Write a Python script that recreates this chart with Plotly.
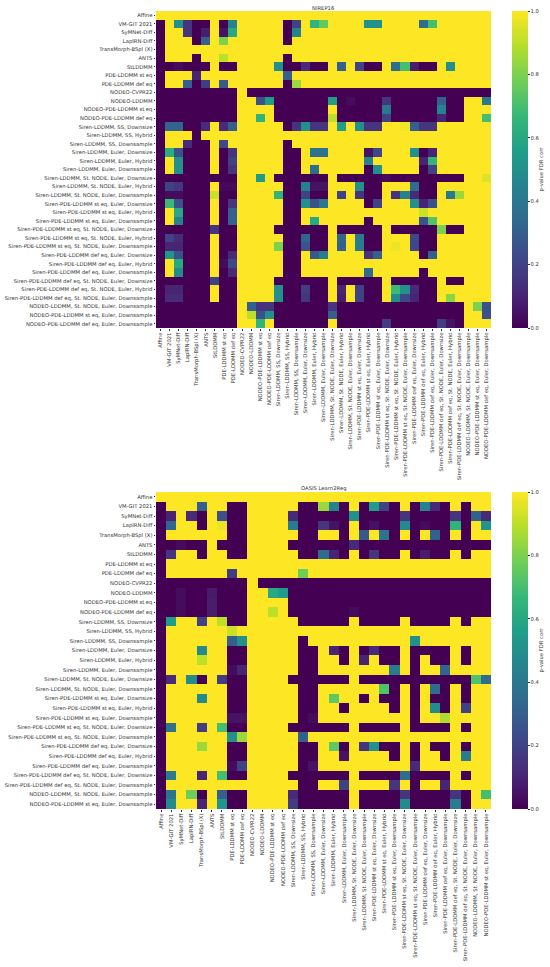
import plotly.graph_objs as go

labels_nirep = [
    'Affine', 'VM-GIT 2021', 'SyMNet-Diff', 'LapIRN-Diff', 'TransMorph-BSpl (X)', 'ANTS', 'StLDDMM',
    'PDE-LDDMM st eq', 'PDE-LDDMM def eq', 'NODEO-CVPR22', 'NODEO-LDDMM',
    'NODEO-PDE-LDDMM st eq', 'NODEO-PDE-LDDMM def eq',
    'Siren-LDDMM, SS, Downsize', 'Siren-LDDMM, SS, Hybrid', 'Siren-LDDMM, SS, Downsample',
    'Siren-LDDMM, Euler, Downsize', 'Siren-LDDMM, Euler, Hybrid', 'Siren-LDDMM, Euler, Downsample',
    'Siren-LDDMM, St. NODE, Euler, Downsize', 'Siren-LDDMM, St. NODE, Euler, Hybrid',
    'Siren-LDDMM, St. NODE, Euler, Downsample',
    'Siren-PDE-LDDMM st eq, Euler, Downsize', 'Siren-PDE-LDDMM st eq, Euler, Hybrid',
    'Siren-PDE-LDDMM st eq, Euler, Downsample',
    'Siren-PDE-LDDMM st eq, St. NODE, Euler, Downsize', 'Siren-PDE-LDDMM st eq, St. NODE, Euler, Hybrid',
    'Siren-PDE-LDDMM st eq, St. NODE, Euler, Downsample',
    'Siren-PDE-LDDMM def eq, Euler, Downsize', 'Siren-PDE-LDDMM def eq, Euler, Hybrid',
    'Siren-PDE-LDDMM def eq, Euler, Downsample',
    'Siren-PDE-LDDMM def eq, St. NODE, Euler, Downsize', 'Siren-PDE-LDDMM def eq, St. NODE, Euler, Hybrid',
    'Siren-PDE-LDDMM def eq, St. NODE, Euler, Downsample',
    'NODEO-LDDMM, St. NODE, Euler, Downsample', 'NODEO-PDE-LDDMM st eq, Euler, Downsample',
    'NODEO-PDE-LDDMM def eq, Euler, Downsample',
]

labels_oasis = [
    'Affine', 'VM-GIT 2021', 'SyMNet-Diff', 'LapIRN-Diff', 'TransMorph-BSpl (X)', 'ANTS', 'StLDDMM',
    'PDE-LDDMM st eq', 'PDE-LDDMM def eq', 'NODEO-CVPR22', 'NODEO-LDDMM',
    'NODEO-PDE-LDDMM st eq', 'NODEO-PDE-LDDMM def eq',
    'Siren-LDDMM, SS, Downsize', 'Siren-LDDMM, SS, Hybrid', 'Siren-LDDMM, SS, Downsample',
    'Siren-LDDMM, Euler, Downsize', 'Siren-LDDMM, Euler, Hybrid', 'Siren-LDDMM, Euler, Downsample',
    'Siren-LDDMM, St. NODE, Euler, Downsize', 'Siren-LDDMM, St. NODE, Euler, Downsample',
    'Siren-PDE-LDDMM st eq, Euler, Downsize', 'Siren-PDE-LDDMM st eq, Euler, Hybrid',
    'Siren-PDE-LDDMM st eq, Euler, Downsample',
    'Siren-PDE-LDDMM st eq, St. NODE, Euler, Downsize', 'Siren-PDE-LDDMM st eq, St. NODE, Euler, Downsample',
    'Siren-PDE-LDDMM def eq, Euler, Downsize', 'Siren-PDE-LDDMM def eq, Euler, Hybrid',
    'Siren-PDE-LDDMM def eq, Euler, Downsample',
    'Siren-PDE-LDDMM def eq, St. NODE, Euler, Downsize', 'Siren-PDE-LDDMM def eq, St. NODE, Euler, Downsample',
    'NODEO-LDDMM, St. NODE, Euler, Downsample', 'NODEO-PDE-LDDMM st eq, Euler, Downsample',
]

pvals_nirep = [
    [1,1,1,1,1,1,1,1,1,1, 1,1,1,1,1,1,1,1,1,1, 1,1,1,1,1,1,1,1,1,1, 1,1,1,1,1,1,1],
    [0,1,.5,.15,0,0,1,0,.45,1, 1,1,1,1,0,.2,1,.65,.75,1, 1,1,1,.5,.5,1,1,1,1,.35, .7,1,1,1,1,1,1],
    [0,1,1,.15,0,.08,1,.05,.6,1, 1,1,1,1,0,.45,1,1,1,1, 1,1,1,1,1,1,1,1,1,1, 1,1,1,1,1,1,1],
    [0,1,1,1,0,.3,1,.8,1,1, 1,1,1,1,0,1,1,1,1,1, 1,1,1,1,1,1,1,1,1,1, 1,1,1,1,1,1,1],
    [0,1,1,1,1,1,1,1,1,1, 1,1,1,1,1,1,1,1,1,1, 1,1,1,1,1,1,1,1,1,1, 1,1,1,1,1,1,1],
    [0,1,1,1,0,1,1,.9,1,1, 1,1,1,1,0,1,1,1,1,1, 1,1,1,1,1,1,1,1,1,1, 1,1,1,1,1,1,1],
    [0,0,.03,0,0,0,1,0,0,1, 1,1,1,.5,0,0,.12,0,0,1, .3,1,.2,0,0,1,.35,.7,.08,0, 0,1,.5,1,1,1,1],
    [0,1,1,1,.1,1,1,1,1,1, 1,1,1,1,.3,1,1,1,1,1, 1,1,1,1,1,1,1,1,1,1, 1,1,1,1,1,1,1],
    [0,1,1,.3,0,.18,1,.28,1,1, 1,1,1,1,0,.85,1,1,1,1, 1,1,1,1,1,1,1,1,1,1, 1,1,1,1,1,1,1],
    [0,0,0,0,0,0,0,0,0,1, 0,0,0,0,0,0,0,0,0,0, 0,0,0,0,0,0,0,0,0,0, 0,0,0,0,0,0,0],
    [0,0,0,0,0,0,0,0,0,1, 1,.25,.55,0,0,0,0,0,0,.55, 0,.03,0,0,0,.15,0,0,0,0, 0,.3,0,0,1,1,.4],
    [0,0,0,0,0,0,0,0,0,1, 1,1,1,0,0,0,0,0,0,1, 0,0,0,0,0,.4,0,0,0,0, 0,.45,0,0,1,1,1],
    [0,0,0,0,0,0,0,0,0,1, 1,.65,1,0,0,0,0,0,0,.9, 0,0,0,0,0,.2,0,0,0,0, 0,.1,0,0,1,1,.7],
    [0,.32,.32,0,0,.12,1,.12,.3,1, 1,1,1,1,0,.15,.5,.15,.15,1, .55,1,.5,.15,.15,1,1,.98,.3,.15, .15,1,1,1,1,1,1],
    [0,1,1,1,0,1,1,1,1,1, 1,1,1,1,1,1,1,1,1,1, 1,1,1,1,1,1,1,1,1,1, 1,1,1,1,1,1,1],
    [0,1,1,.12,0,0,1,.22,1,1, 1,1,1,1,0,1,1,1,1,1, 1,1,1,1,1,1,1,1,1,1, 1,1,1,1,1,1,1],
    [0,.62,.25,0,0,0,1,0,.15,1, 1,1,1,1,0,0,1,.38,.38,1, 1,1,1,.05,.22,1,1,1,.5,0, .1,1,1,1,1,1,1],
    [0,1,.5,0,0,0,1,0,.2,1, 1,1,1,1,0,0,1,1,1,1, 1,1,1,.45,1,1,1,1,1,.1, .65,1,1,1,1,1,1],
    [0,1,.5,0,0,0,1,0,.15,1, 1,1,1,1,0,0,1,.35,1,1, 1,1,1,0,.5,1,1,1,1,0, .2,1,1,1,1,1,1],
    [0,0,0,0,0,0,0,0,0,1, 1,.55,1,0,0,0,0,0,0,1, 0,0,0,0,0,.03,0,0,0,0, 0,0,0,0,1,1,.95],
    [0,.2,.15,0,0,0,1,.02,.02,1, 1,1,1,1,0,0,.45,.05,.05,1, 1,1,.5,0,0,1,1,1,.35,0, 0,1,1,1,1,1,1],
    [0,.03,.03,0,0,0,.92,0,0,1, 1,1,1,.65,0,0,.2,0,0,1, .2,1,.15,0,0,1,.15,.45,.12,0, 0,1,.4,.85,1,1,1],
    [0,.68,.25,0,0,0,1,0,.15,1, 1,1,1,1,0,0,.5,.25,.4,1, 1,1,1,0,.2,1,1,1,.5,.1, .25,1,1,1,1,1,1],
    [0,1,.6,0,0,0,1,0,.3,1, 1,1,1,1,0,0,1,1,1,1, 1,1,1,1,1,1,1,1,1,.92, 1,1,1,1,1,1,1],
    [0,1,.45,0,0,0,1,0,.32,1, 1,1,1,1,0,0,1,.6,1,1, 1,1,1,0,1,1,1,1,1,.25, .72,1,1,1,1,1,1],
    [0,0,0,0,0,0,.15,0,0,1, 1,1,1,0,0,0,0,0,0,1, 0,0,0,0,0,1,0,0,0,0, 0,.8,0,0,1,1,1],
    [0,.2,.12,0,0,0,1,0,0,1, 1,1,1,1,0,0,.32,0,0,1, .32,1,.42,0,0,1,1,1,.22,0, 0,1,1,1,1,1,1],
    [0,.1,.1,0,0,0,1,0,0,1, 1,1,1,.8,0,0,.25,0,0,1, .3,1,.42,0,0,1,.97,1,.22,0, 0,1,1,1,1,1,1],
    [0,.52,.25,0,0,0,1,0,.12,1, 1,1,1,1,0,0,1,.28,.42,1, 1,1,1,.15,.3,1,1,1,1,0, .3,1,1,1,1,1,1],
    [0,1,.6,0,0,0,1,.03,.22,1, 1,1,1,1,0,0,1,1,1,1, 1,1,1,1,1,1,1,1,1,1, 1,1,1,1,1,1,1],
    [0,1,.48,0,0,0,1,0,.12,1, 1,1,1,1,0,0,1,1,1,1, 1,1,1,.35,1,1,1,1,1,0, 1,1,1,1,1,1,1],
    [0,0,0,0,0,0,.2,0,0,1, 1,1,1,0,0,0,0,0,0,1, 0,0,0,0,0,1,0,0,0,0, 0,1,0,0,1,1,1],
    [0,.1,.1,0,0,0,1,0,0,1, 1,1,1,.5,0,0,.18,0,0,1, .1,1,.2,0,0,1,.68,.5,.12,0, 0,1,1,1,1,1,1],
    [0,.12,.12,0,0,0,1,0,0,1, 1,1,1,.5,0,0,.15,0,0,1, .08,1,.2,0,0,1,.48,.22,.1,0, 0,1,.82,1,1,1,1],
    [0,0,0,0,0,0,0,0,0,1, .3,.15,.15,0,0,0,0,0,0,.15, 0,0,0,0,0,0,0,0,0,0, 0,0,0,0,1,.8,.25],
    [0,0,0,0,0,0,0,0,0,1, .9,.25,.5,0,0,0,0,0,0,.3, 0,0,0,0,0,0,0,0,0,0, 0,0,0,0,1,1,.25],
    [0,0,0,0,0,0,0,0,0,1, 1,.65,1,0,0,0,0,0,0,1, 0,0,0,0,0,.18,0,0,0,0, 0,.18,.05,0,1,1,1],
]

pvals_oasis = [
    [1,1,1,1,1,1,1,1,1,1, 1,1,1,1,1,1,1,1,1,1, 1,1,1,1,1,1,1,1,1,1, 1,1,1],
    [0,1,1,1,.3,1,1,0,0,1, 1,1,1,1,0,0,.85,.45,0,1, 0,.55,.2,0,1,0,.45,.12,0,1, 0,1,1],
    [0,.1,1,.12,0,1,.25,0,0,1, 1,1,1,.12,0,0,0,0,0,.5, 0,0,0,0,.15,0,0,0,0,.15, 0,.3,.12],
    [0,.33,1,1,0,1,.97,0,0,1, 1,1,1,.42,0,0,.15,.05,0,1, 0,.05,0,0,.48,0,.03,0,0,.65, 0,1,.52],
    [0,1,1,1,1,1,1,0,0,1, 1,1,1,1,0,0,1,1,0,1, .28,1,.38,0,1,0,1,.3,0,1, 0,1,1],
    [0,0,.03,0,0,1,0,0,0,1, 1,1,1,0,0,0,0,0,0,.12, 0,0,0,0,0,0,0,0,0,0, 0,0,0],
    [0,.15,1,1,0,1,1,0,0,1, 1,1,1,1,0,0,.35,.1,0,1, 0,.15,0,0,1,0,.08,0,0,1, 0,1,1],
    [0,1,1,1,1,1,1,1,1,1, 1,1,1,1,1,1,1,1,1,1, 1,1,1,1,1,1,1,1,1,1, 1,1,1],
    [0,1,1,1,1,1,1,.18,1,1, 1,1,1,1,.78,1,1,1,1,1, 1,1,1,1,1,1,1,1,1,1, 1,1,1],
    [0,0,0,0,0,0,0,0,0,1, 0,0,0,0,0,0,0,0,0,0, 0,0,0,0,0,0,0,0,0,0, 0,0,0],
    [0,0,.03,0,0,.07,0,0,0,1, 1,.6,.55,0,0,0,0,0,0,0, 0,0,0,0,0,0,0,0,0,0, 0,0,0],
    [0,0,.03,0,0,.08,0,0,0,1, 1,1,1,0,0,0,0,0,0,0, 0,0,0,0,0,0,0,0,0,0, 0,0,0],
    [0,0,.03,0,0,.08,0,0,0,1, 1,.9,1,0,0,0,0,0,0,.03, 0,0,0,0,0,0,0,0,0,0, 0,0,0],
    [0,.55,1,1,.2,1,.9,0,0,1, 1,1,1,1,0,0,0,0,0,1, 0,0,0,0,1,0,0,0,0,1, 0,1,1],
    [0,1,1,1,1,1,1,.92,1,1, 1,1,1,1,1,1,1,1,1,1, 1,1,1,1,1,1,1,1,1,1, 1,1,1],
    [0,1,1,1,1,1,1,.3,.5,1, 1,1,1,1,0,1,1,1,1,1, 1,1,1,1,1,.5,1,1,1,1, 1,1,1],
    [0,1,1,1,.48,1,1,0,0,1, 1,1,1,1,0,0,1,.1,0,1, 0,.12,0,0,1,0,0,0,0,1, 0,1,1],
    [0,1,1,1,.9,1,1,0,0,1, 1,1,1,1,0,0,1,1,0,1, .1,1,0,0,1,0,1,0,0,1, 0,1,1],
    [0,1,1,1,1,1,1,.03,.1,1, 1,1,1,1,0,0,1,1,1,1, 1,1,1,.42,1,0,1,1,.32,1, 1,1,1],
    [0,.12,1,.48,0,1,.18,0,0,1, 1,1,1,0,0,0,0,0,0,1, 0,0,0,0,0,0,0,0,0,0, 0,.72,.35],
    [0,1,1,1,1,1,1,0,0,1, 1,1,1,1,0,0,1,1,1,1, 1,1,.72,0,1,0,1,.35,0,1, 0,1,1],
    [0,1,1,1,.48,1,1,0,0,1, 1,1,1,1,0,0,1,.75,1,1, 0,1,0,0,1,0,1,0,0,1, 0,1,1],
    [0,1,1,1,1,1,1,0,0,1, 1,1,1,1,0,0,1,1,0,1, 1,1,1,0,1,0,1,.48,0,1, .2,1,1],
    [0,1,1,1,1,1,1,.05,.05,1, 1,1,1,1,0,.03,1,1,1,1, 1,1,1,1,1,0,1,1,.88,1, 1,1,1],
    [0,.38,1,1,.18,1,.7,0,0,1, 1,1,1,0,0,0,0,0,0,1, 0,0,0,0,1,0,0,0,0,1, 0,1,1],
    [0,1,1,1,1,1,1,.5,.85,1, 1,1,1,1,.3,1,1,1,1,1, 1,1,1,1,1,1,1,1,1,1, 1,1,1],
    [0,1,1,1,.85,1,1,0,0,1, 1,1,1,1,0,0,1,.75,0,1, .15,.5,0,0,1,0,1,0,0,1, 0,1,1],
    [0,1,1,1,1,1,1,0,0,1, 1,1,1,1,0,0,1,1,.05,1, 1,1,1,0,1,0,1,1,0,1, .42,1,1],
    [0,1,1,1,1,1,1,.03,.2,1, 1,1,1,1,0,.05,1,1,1,1, 1,1,1,1,1,.12,1,1,1,1, 1,1,1],
    [0,.42,1,1,.1,1,.7,0,0,1, 1,1,1,0,0,0,0,0,0,1, 0,0,0,0,.35,0,0,0,0,1, 0,1,1],
    [0,1,1,1,1,1,1,1,1,1, 1,1,1,1,0,0,1,1,.2,1, 1,1,1,.15,1,0,1,1,.1,1, 1,1,1],
    [0,.38,1,.78,0,1,.3,0,0,1, 1,1,1,.12,0,0,0,0,0,1, 0,0,0,0,.15,0,0,0,0,.15, 0,1,.7],
    [0,.48,1,1,.1,1,.52,0,0,1, 1,1,1,.18,0,0,0,0,0,1, 0,0,0,0,.48,0,0,0,0,.42, 0,1,1],
]

WIDTH, HEIGHT = 550, 967
MAP_H = 317
FONT = dict(family='DejaVu Sans', size=5.25, color='#333333')


def px_x(x):
    return x / WIDTH


def px_y(y):
    return 1 - y / HEIGHT


def colorbar(y_top):
    return dict(
        x=px_x(512), xanchor='left', xref='paper',
        y=px_y(y_top), yanchor='top', yref='paper',
        len=MAP_H / HEIGHT, lenmode='fraction', thickness=16, thicknessmode='pixels',
        outlinewidth=0, ticks='outside', ticklen=2, tickwidth=0.5, tickcolor='#333333',
        tickvals=[0, 0.2, 0.4, 0.6, 0.8, 1.0], ticktext=['0.0', '0.2', '0.4', '0.6', '0.8', '1.0'],
        tickfont=FONT,
        title=dict(text='p-value FDR corr', side='right', font=FONT),
        xpad=0, ypad=0,
    )


def axis_pair(labels, y_top):
    x_axis = dict(
        domain=[px_x(156), px_x(491)], tickmode='array', tickvals=labels, ticktext=labels,
        tickangle=-90, tickfont=FONT, ticks='outside', ticklen=1.5, tickwidth=0.4, tickcolor='#333333',
        showgrid=False, zeroline=False, showline=False, automargin=False,
    )
    y_axis = dict(
        domain=[px_y(y_top + MAP_H), px_y(y_top)], tickmode='array', tickvals=labels,
        ticktext=labels, autorange='reversed', tickfont=FONT, ticks='outside', ticklen=1.5, tickwidth=0.4,
        tickcolor='#333333', showgrid=False, zeroline=False, showline=False, automargin=False,
    )
    return x_axis, y_axis


fig = go.Figure()
fig.add_trace(go.Heatmap(z=pvals_nirep, x=labels_nirep, y=labels_nirep, coloraxis='coloraxis',
                         xaxis='x', yaxis='y'))
fig.add_trace(go.Heatmap(z=pvals_oasis, x=labels_oasis, y=labels_oasis, coloraxis='coloraxis2',
                         xaxis='x2', yaxis='y2'))

x1, y1 = axis_pair(labels_nirep, 11)
x2, y2 = axis_pair(labels_oasis, 492)
y2['anchor'] = 'x2'
x2['anchor'] = 'y2'

fig.update_layout(
    width=WIDTH, height=HEIGHT, margin=dict(l=0, r=0, t=0, b=0, autoexpand=False),
    paper_bgcolor='white', plot_bgcolor='white', font=FONT,
    xaxis=x1, yaxis=y1, xaxis2=x2, yaxis2=y2,
    coloraxis=dict(colorscale='Viridis', cmin=0, cmax=1, colorbar=colorbar(11)),
    coloraxis2=dict(colorscale='Viridis', cmin=0, cmax=1, colorbar=colorbar(492)),
    annotations=[
        dict(text='NIREP16', x=px_x(323.5), y=px_y(7.5), xref='paper', yref='paper',
             showarrow=False, font=FONT, xanchor='center', yanchor='middle'),
        dict(text='OASIS Learn2Reg', x=px_x(323.5), y=px_y(488), xref='paper', yref='paper',
             showarrow=False, font=FONT, xanchor='center', yanchor='middle'),
    ],
)

# the default 8px body margin would push the long labels out of the window
fig.write_html("out.html", config={'displayModeBar': False},
               post_script="document.body.style.margin = '0';")
